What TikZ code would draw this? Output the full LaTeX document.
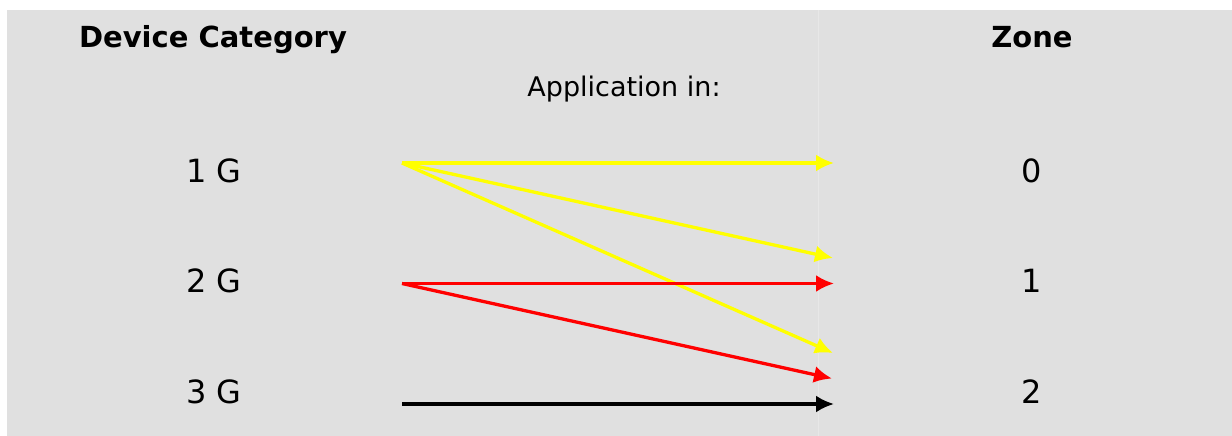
\documentclass[tikz,border=0pt]{standalone}
\usepackage{fontspec}
\setmainfont{DejaVu Sans}
\usepackage{tikz}
\usetikzlibrary{arrows.meta}
\definecolor{hgrau}{RGB}{224,224,224}
\definecolor{linie}{RGB}{231,231,231}
\definecolor{gelb}{RGB}{255,255,0}
\tikzset{
  Pfeil/.style={line width=3.3pt,->,#1}, % für Pfeile
  GPfeil/.style={Pfeil=gelb},  % gelbe Pfeile
  RPfeil/.style={Pfeil=red},   % rote Pfeile
  SPfeil/.style={Pfeil=black}, % schwarze Pfeile
  Kopf/.style={font=\fontsize{29}{34}\selectfont\bfseries,anchor=base,inner sep=0pt},
  Eintrag/.style={font=\fontsize{32}{38}\selectfont,anchor=base,inner sep=0pt},
  Hinweis/.style={font=\fontsize{27}{32}\selectfont,anchor=base,inner sep=0pt}
}

\begin{document}
\begin{tikzpicture}[x=1pt,y=-1pt,
>={Latex[length=18pt,width=17pt]} % Voreinstellung für Pfeilspitzen
]
\useasboundingbox (0,0) rectangle (1232,436);
\fill[hgrau] (7,10) rectangle (1232,436);
\draw[linie,line width=1pt] (818,10) -- (818,436);

%Beschriftung
\node[Kopf] (DK) at (213,48) {Device Category};
\node[Kopf] (Zone) at (1032,48) {Zone};
\node[Hinweis] (App) at (624,96.7) {Application in:};

\node[Eintrag] (G1) at (214,182.7) {1 G};
\node[Eintrag] (G2) at (214,292.7) {2 G};
\node[Eintrag] (G3) at (214,403.3) {3 G};

\node[Eintrag] (Z0) at (1032,182.5) {0};
\node[Eintrag] (Z1) at (1032,292.7) {1};
\node[Eintrag] (Z2) at (1032,403.3) {2};

%Anfangs- und Endpunkte
\coordinate (A1) at (402,163);
\coordinate (A2) at (402,283.5);
\coordinate (A3) at (402,404);
\coordinate (E0)  at (834,163);
\coordinate (E1g) at (833,258);
\coordinate (E1)  at (834,283.5);
\coordinate (E2g) at (833,353);
\coordinate (E2)  at (832,378.5);
\coordinate (E3)  at (834,404);

%Pfeile
\draw[GPfeil] (A1) -- (E0);
\draw[GPfeil] (A1) -- (E1g);
\draw[GPfeil] (A1) -- (E2g);
\draw[RPfeil] (A2) -- (E1);
\draw[RPfeil] (A2) -- (E2);
\draw[SPfeil] (A3) -- (E3);

\end{tikzpicture}
\end{document}
